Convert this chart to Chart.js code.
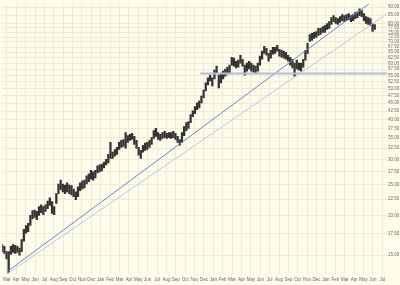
<!DOCTYPE html>
<html>
<head>
<meta charset="utf-8">
<script src="https://cdn.jsdelivr.net/npm/chart.js@4"></script>
<style>
  html, body { margin: 0; padding: 0; background: #FEFDEB; }
  canvas { display: block; background: #FEFDEB; }
</style>
</head>
<body>
<canvas id="priceChart" width="400" height="285"></canvas>
<script>
// month labels along the bottom, one per month start
const monthLabels = ['Mar','Apr','May','Jun','Jul','Aug','Sep','Oct','Nov','Dec','Jan','Feb',
    'Mar','Apr','May','Jun','Jul','Aug','Sep','Oct','Nov','Dec','Jan','Feb',
    'Mar','Apr','May','Jun','Jul','Aug','Sep','Oct','Nov','Dec','Jan','Feb',
    'Mar','Apr','May','Jun','Jul'];

const priceTicks = [15, 17.5, 20, 22.5, 25, 27.5, 30, 32.5, 35, 37.5, 40, 42.5, 45, 47.5, 50,
    52.5, 55, 57.5, 60, 62.5, 65, 67.5, 70, 72.5, 75, 77.5, 80, 85, 90];

// weekly highs / lows, first week starts mid-Feb
const weekHigh = [16.2,16.0,15.4,15.4,16.0,16.2,16.1,16.0,15.8,16.8,
    18.1,18.6,18.9,20.0,20.7,20.8,20.6,21.3,21.6,21.3,
    21.6,22.2,22.7,22.1,21.3,23.4,25.1,25.8,25.1,24.9,
    25.3,24.9,24.8,24.2,23.7,24.6,25.3,25.7,25.8,26.6,
    27.0,27.7,27.4,27.7,28.6,28.8,29.0,29.4,30.0,31.1,
    33.9,31.6,32.2,32.7,33.9,34.4,34.6,36.4,35.6,35.9,
    36.2,35.4,34.4,32.7,32.0,33.2,33.7,33.9,34.4,35.1,
    36.9,37.5,36.4,35.9,36.4,36.7,36.2,36.4,36.4,36.7,
    36.2,35.4,34.6,36.4,38.0,39.1,39.4,41.4,42.6,43.9,
    45.1,45.8,47.4,49.5,52.1,54.0,55.1,54.0,57.1,58.8,
    55.1,55.9,56.7,57.6,58.4,59.2,62.7,62.3,60.9,61.4,
    63.6,61.8,59.2,60.1,60.9,60.1,59.2,58.8,60.1,63.2,
    65.5,67.8,66.9,64.5,65.9,67.4,67.4,68.3,66.4,65.9,
    65.5,65.0,63.6,62.7,61.8,60.1,61.4,60.1,60.1,61.8,
    65.9,69.3,73.9,74.5,75.0,75.5,77.2,77.2,78.3,78.8,
    80.0,81.1,83.5,84.7,83.5,82.9,84.1,85.3,84.7,85.3,
    85.9,84.7,85.3,86.5,87.1,89.0,87.8,85.9,84.1,83.5,
    82.9,80.0,79.4];

const weekLow = [15.4,15.2,14.6,13.2,15.1,15.3,15.2,15.3,15.0,15.4,
    16.6,17.6,17.8,18.6,19.5,19.7,19.4,20.0,20.4,20.1,
    20.6,21.0,21.5,20.3,20.1,21.8,23.4,24.1,23.7,23.4,
    23.7,23.4,23.2,22.9,22.4,22.9,23.9,24.2,24.4,25.1,
    25.5,26.0,25.8,26.2,27.2,27.4,27.6,28.2,28.8,29.2,
    30.2,30.2,30.7,31.1,32.2,32.7,32.9,32.5,33.9,34.4,
    34.6,33.4,32.5,30.9,30.2,31.6,32.0,32.2,32.7,33.4,
    34.9,35.4,34.6,34.4,34.9,35.1,34.9,35.1,34.9,35.1,
    34.6,33.9,33.2,33.9,35.6,36.9,37.5,39.1,40.8,41.7,
    42.9,43.5,45.1,46.8,49.2,51.3,52.8,51.0,53.6,55.9,
    50.2,52.1,53.6,54.7,55.5,55.9,59.2,58.8,58.0,58.4,
    60.1,58.8,55.1,56.7,57.6,56.7,56.3,55.9,56.7,59.2,
    61.8,64.5,63.6,60.9,62.3,64.1,64.5,65.5,63.2,62.7,
    62.3,61.8,60.9,59.2,58.0,54.7,57.6,57.1,56.7,58.4,
    61.4,64.5,70.3,70.8,71.8,72.4,73.4,73.9,75.0,75.0,
    76.6,77.2,79.4,81.1,80.0,79.4,80.6,81.7,81.1,81.7,
    82.3,81.1,81.7,82.9,83.5,84.7,84.1,81.7,80.0,79.4,
    78.8,75.5,76.6];

// hand drawn lines: [month, price] end points
const trendUpper = [[0, 13.3], [38.6, 92.3]];
const trendLower = [[0, 13.1], [40.5, 85.8]];
const supportLine = [[20.6, 55.7], [40.5, 55.7]];

const firstWeek = -0.5;          // in months from the first Mar
const weekLen = 12 / 52;

const bars = weekHigh.map((h, i) => ({ x: firstWeek + i * weekLen, y: [weekLow[i], h] }));
const toPts = arr => arr.map(p => ({ x: p[0], y: p[1] }));

const tickFont = { family: 'Liberation Sans', size: 4.5 };
const gridColor = '#EFEBD1';

const config = {
    type: 'bar',
    data: {
        datasets: [
            {
                type: 'line',
                data: toPts(supportLine),
                borderColor: '#AFBEE0',
                borderWidth: 2,
                pointRadius: 0
            },
            {
                type: 'line',
                data: toPts(trendLower),
                borderColor: '#BCC4E8',
                borderWidth: 1,
                pointRadius: 0
            },
            {
                type: 'line',
                data: toPts(trendUpper),
                borderColor: '#7080D2',
                borderWidth: 1,
                pointRadius: 0
            },
            {
                data: bars,
                backgroundColor: '#333333',
                barThickness: 1.6,
                grouped: false
            }
        ]
    },
    options: {
        responsive: false,
        animation: false,
        layout: { padding: 0 },
        plugins: {
            legend: { display: false },
            tooltip: { enabled: false }
        },
        scales: {
            x: {
                type: 'linear',
                min: -0.5,
                max: 40.5,
                offset: false,
                grid: { color: gridColor, offset: false, drawTicks: false },
                border: { display: false },
                afterBuildTicks: axis => {
                    axis.ticks = monthLabels.map((_, i) => ({ value: i }));
                },
                afterFit: axis => { axis.height = 11; },
                ticks: {
                    autoSkip: false,
                    maxRotation: 0,
                    padding: 3,
                    font: tickFont,
                    color: '#666',
                    callback: v => monthLabels[v]
                }
            },
            y: {
                type: 'logarithmic',
                position: 'right',
                min: 13.1,
                max: 92.3,
                grid: { color: gridColor, drawTicks: false },
                border: { display: false },
                afterBuildTicks: axis => {
                    axis.ticks = priceTicks.map(v => ({ value: v }));
                },
                afterFit: axis => { axis.width = 13; },
                ticks: {
                    autoSkip: false,
                    padding: 1,
                    font: tickFont,
                    color: '#666',
                    callback: v => Number(v).toFixed(2)
                }
            }
        }
    }
};

const ctx = document.getElementById('priceChart').getContext('2d');
const priceChart = new Chart(ctx, config);
</script>
</body>
</html>
